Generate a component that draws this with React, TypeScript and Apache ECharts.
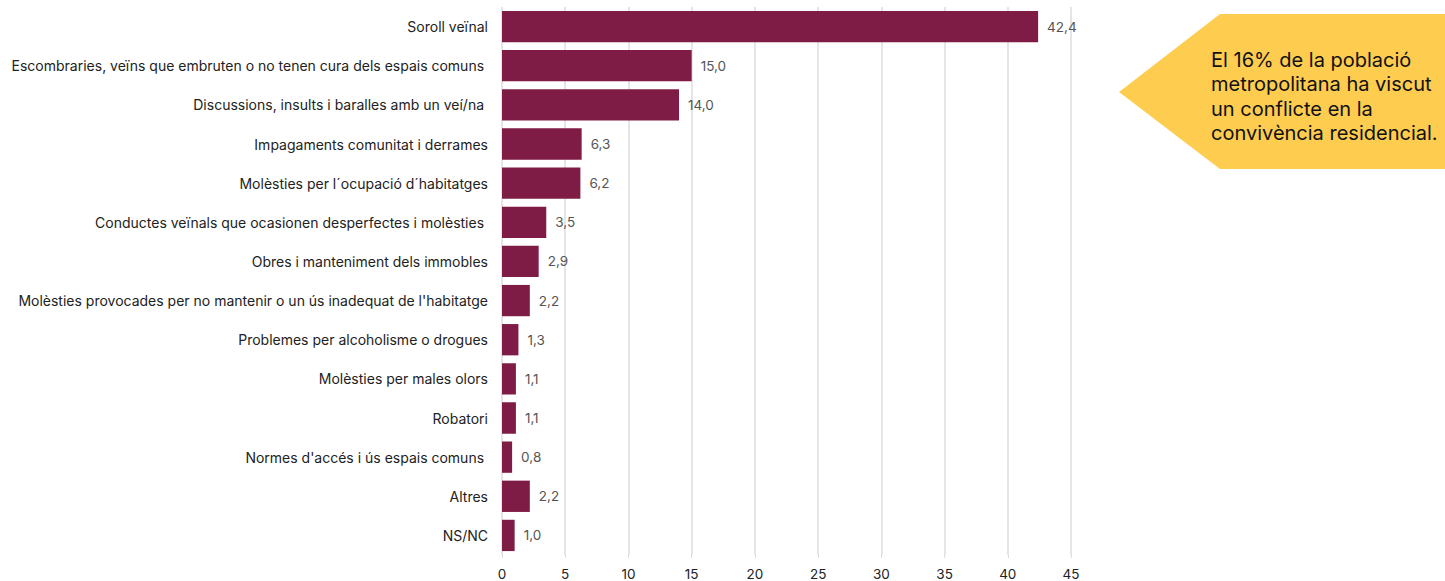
import React, { useEffect, useRef } from "react";
import * as echarts from "echarts";

const categories = [
  "Soroll veïnal",
  "Escombraries, veïns que embruten o no tenen cura dels espais comuns ",
  "Discussions, insults i baralles amb un veí/na ",
  "Impagaments comunitat i derrames",
  "Molèsties per l´ocupació d´habitatges",
  "Conductes veïnals que ocasionen desperfectes i molèsties ",
  "Obres i manteniment dels immobles",
  "Molèsties provocades per no mantenir o un ús inadequat de l'habitatge",
  "Problemes per alcoholisme o drogues",
  "Molèsties per males olors",
  "Robatori",
  "Normes d'accés i ús espais comuns ",
  "Altres",
  "NS/NC",
];
const values = [42.4, 15.0, 14.0, 6.3, 6.2, 3.5, 2.9, 2.2, 1.3, 1.1, 1.1, 0.8, 2.2, 1.0];
const calloutLines = [
  "El 16% de la població",
  "metropolitana ha viscut",
  "un conflicte en la",
  "convivència residencial.",
];

const FONT = "Inter, 'Liberation Sans', Arial, sans-serif";

export default function App() {
  const ref = useRef<HTMLDivElement>(null);
  useEffect(() => {
    if (!ref.current) return;
    const chart = echarts.init(ref.current, undefined, { renderer: "svg" });
    chart.setOption({
      animation: false,
      textStyle: { fontFamily: FONT },
      grid: { left: 502, right: 374, top: 7, bottom: 24, containLabel: false },
      xAxis: {
        type: "value",
        min: 0,
        max: 45,
        interval: 5,
        axisLine: { show: false },
        axisTick: { show: true, length: 3, lineStyle: { color: "#dcdcdc" } },
        splitLine: { show: true, lineStyle: { color: "#dcdcdc", width: 1.5 } },
        axisLabel: { color: "#222", fontSize: 13.5, margin: 12, fontFamily: FONT },
      },
      yAxis: {
        type: "category",
        inverse: true,
        data: categories,
        axisLine: { show: false },
        axisTick: { show: false },
        axisLabel: { color: "#222", fontSize: 14, margin: 14, fontFamily: FONT },
      },
      series: [
        {
          type: "bar",
          data: values,
          barWidth: "80%",
          itemStyle: { color: "#7f1c45" },
          label: {
            show: true,
            position: "right",
            distance: 9,
            color: "#555",
            fontSize: 13.5,
            fontFamily: FONT,
            formatter: (p: any) => Number(p.value).toFixed(1).replace(".", ","),
          },
        },
      ],
      graphic: [
        {
          type: "polygon",
          shape: {
            points: [
              [1119, 92],
              [1220, 14],
              [1445, 14],
              [1445, 169],
              [1220, 169],
            ],
          },
          style: { fill: "#fecc4f" },
        },
        ...calloutLines.map((t, i) => ({
          type: "text",
          x: 1211,
          y: 60 + i * 24.3,
          style: {
            text: t,
            fill: "#111",
            font: `20px ${FONT}`,
            textVerticalAlign: "middle",
          },
        })),
      ],
    });
    return () => chart.dispose();
  }, []);
  return (
    <div
      ref={ref}
      style={{ position: "absolute", left: 0, top: 0, width: 1445, height: 581 }}
    />
  );
}
